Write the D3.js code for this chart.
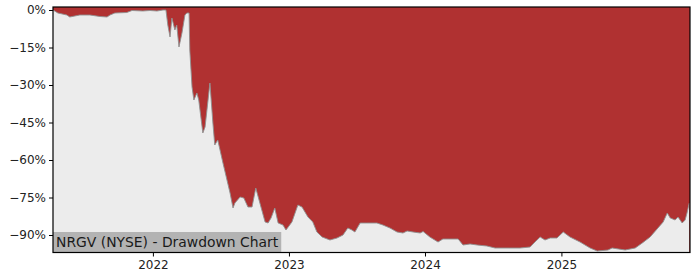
<!DOCTYPE html>
<html><head><meta charset="utf-8">
<script src="https://cdn.jsdelivr.net/npm/d3@7"></script>
<style>
html,body{margin:0;padding:0;background:#fff;}
svg{display:block;font-family:"DejaVu Sans",sans-serif;}
</style></head>
<body><svg id="c" width="700" height="280"></svg>
<script>
const dates = ["2021-04-08","2021-04-21","2021-05-15","2021-05-23","2021-06-19","2021-07-16","2021-08-12","2021-08-31","2021-09-08","2021-09-21","2021-10-23","2021-11-06","2021-12-05","2021-12-24","2022-01-12","2022-01-28","2022-02-05","2022-02-10","2022-02-16","2022-02-21","2022-03-01","2022-03-06","2022-03-12","2022-03-20","2022-03-28","2022-04-02","2022-04-08","2022-04-10","2022-04-16","2022-04-21","2022-04-29","2022-05-04","2022-05-15","2022-05-21","2022-05-29","2022-06-03","2022-06-11","2022-06-16","2022-06-24","2022-07-08","2022-07-27","2022-08-04","2022-08-09","2022-08-23","2022-09-02","2022-09-13","2022-09-24","2022-10-04","2022-10-15","2022-10-29","2022-11-06","2022-11-14","2022-11-24","2022-12-03","2022-12-16","2022-12-24","2023-01-09","2023-01-25","2023-02-05","2023-02-21","2023-03-06","2023-03-17","2023-03-31","2023-04-21","2023-05-10","2023-05-26","2023-06-08","2023-06-19","2023-06-27","2023-07-11","2023-07-29","2023-08-25","2023-09-10","2023-09-29","2023-10-18","2023-11-03","2023-11-14","2023-11-30","2023-12-19","2023-12-27","2024-01-14","2024-02-05","2024-02-18","2024-03-08","2024-03-30","2024-04-12","2024-05-01","2024-05-20","2024-06-15","2024-07-07","2024-08-16","2024-09-12","2024-10-09","2024-10-22","2024-11-05","2024-11-18","2024-12-02","2024-12-20","2025-01-06","2025-01-24","2025-02-20","2025-03-19","2025-04-07","2025-05-06","2025-05-17","2025-06-21","2025-07-18","2025-08-06","2025-08-27","2025-09-17","2025-10-01","2025-10-12","2025-10-20","2025-11-02","2025-11-10","2025-11-21","2025-11-29","2025-12-04","2025-12-10"];
const drawdown = [0,-1.2,-2.0,-2.8,-2.0,-2.0,-2.6,-2.8,-2.0,-1.2,-1.0,-0.2,-0.4,-0.2,-0.4,0,0,-6,-10.8,-3.2,-8,-6,-14.8,-9.2,-2,-1.2,-1.2,-16,-30.8,-36,-33.2,-36,-49.2,-46.8,-36,-29.2,-45.2,-54,-52,-61.2,-73.2,-79.2,-77.2,-74.8,-75.2,-78.8,-78.8,-71.2,-77.2,-84.8,-85.2,-83.2,-79.2,-85.2,-86,-88,-84.8,-78,-78.8,-82.8,-84.8,-88.8,-90.8,-92,-91.2,-90,-87.2,-88,-88.8,-85.2,-85.2,-85.2,-86,-87.2,-88.8,-89.2,-88.4,-88.8,-89.2,-88.6,-90.8,-92.8,-91.6,-91.6,-91.6,-94,-93.6,-94,-94.4,-95.2,-95.2,-95.2,-94.8,-92.8,-90.8,-92,-91.2,-91.2,-88.8,-90.8,-92.8,-95.2,-96.4,-96,-95.2,-96,-95.2,-93.2,-90.8,-87.2,-84.8,-81.2,-83.2,-84,-82.8,-85.2,-84,-81.2,-77.2];
const yTicks = [0,-15,-30,-45,-60,-75,-90];
const xTicks = ["2022-01-01","2023-01-01","2024-01-01","2025-01-01"];
const title = "NRGV (NYSE) - Drawdown Chart";

const parse = d3.utcParse("%Y-%m-%d");
const data = dates.map((d,i)=>({date:parse(d), v:drawdown[i]}));
const L=53, R=690, T=7, B=252.5;
const svg = d3.select("#c");
const x = d3.scaleUtc().domain([parse("2021-04-08"), parse("2025-12-12")]).range([L,R]);
const y = d3.scaleLinear().domain([-97,1.2]).range([B,T]);

svg.append("rect").attr("x",L).attr("y",T).attr("width",R-L).attr("height",B-T).attr("fill","#b03131");
const area = d3.area().x(d=>x(d.date)).y0(B).y1(d=>y(d.v));
svg.append("path").datum(data).attr("d",area).attr("fill","#ececec");
svg.append("path").datum(data).attr("d",d3.line().x(d=>x(d.date)).y(d=>y(d.v)))
  .attr("fill","none").attr("stroke","#909090").attr("stroke-width",0.9);

// label box
const g = svg.append("g");
const tx = g.append("text").attr("x",L+3).attr("y",B-5.5).attr("font-size",13.9).attr("fill","#1a1a1a").text(title);
const bw = tx.node().getComputedTextLength();
g.insert("rect","text").attr("x",L).attr("y",B-20.5).attr("width",bw+6).attr("height",20.5).attr("fill","#b3b3b3");

// frame
svg.append("rect").attr("x",L).attr("y",T).attr("width",R-L).attr("height",B-T).attr("fill","none").attr("stroke","#000").attr("stroke-width",1.2);

const yAxis = d3.axisLeft(y).tickValues(yTicks).tickSize(4).tickPadding(3).tickFormat(d=>d3.format("d")(d)+"%");
const ya = svg.append("g").attr("transform",`translate(${L},0)`).call(yAxis);
const xAxis = d3.axisBottom(x).tickValues(xTicks.map(parse)).tickSize(4).tickPadding(4).tickFormat(d3.utcFormat("%Y"));
const xa = svg.append("g").attr("transform",`translate(0,${B})`).call(xAxis);
[ya,xa].forEach(a=>{a.select(".domain").remove(); a.selectAll("text").attr("font-size",12).attr("fill","#222").attr("font-family","DejaVu Sans"); a.selectAll("line").attr("stroke","#000");});
</script></body></html>
